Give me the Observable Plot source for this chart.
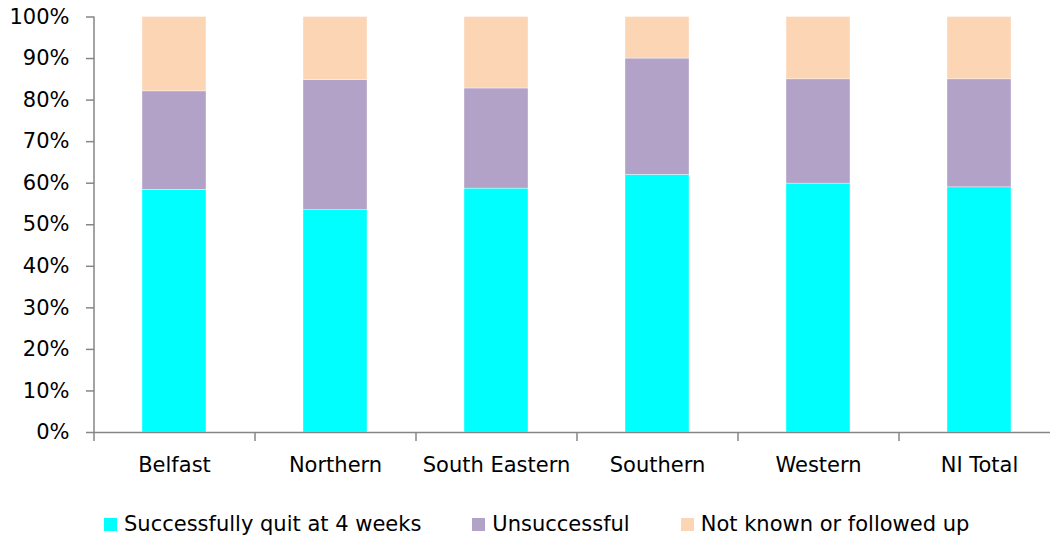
<!DOCTYPE html>
<html>
<head>
<meta charset="utf-8">
<script src="https://cdn.jsdelivr.net/npm/d3@7"></script>
<script src="https://cdn.jsdelivr.net/npm/@observablehq/plot@0.6"></script>
<style>
  html, body { margin: 0; padding: 0; background: #fff; }
  body { width: 1050px; height: 537px; overflow: hidden; font-family: "DejaVu Sans", sans-serif; }
  #legend { display: flex; align-items: center; height: 42px; padding-top: 8px; padding-left: 104px; font-size: 21px; color: #000; }
  .item { display: flex; align-items: center; margin-right: 51px; }
  .sw { width: 13px; height: 13px; margin-right: 7px; }
</style>
</head>
<body>
<div id="chart"></div>
<div id="legend"></div>
<script>
const categories = ["Belfast", "Northern", "South Eastern", "Southern", "Western", "NI Total"];
const series = ["Successfully quit at 4 weeks", "Unsuccessful", "Not known or followed up"];
const colors = ["#00FFFF", "#B3A2C7", "#FCD5B5"];
const quit = [58.4, 53.5, 58.7, 62.0, 59.9, 59.0];
const unsuccessful = [23.7, 31.3, 24.1, 28.0, 25.1, 26.0];
const notKnown = [17.9, 15.2, 17.2, 10.0, 15.0, 15.0];
const yTicks = [0, 0.1, 0.2, 0.3, 0.4, 0.5, 0.6, 0.7, 0.8, 0.9, 1.0];

const values = [quit, unsuccessful, notKnown];
const rows = [];
series.forEach((s, si) => categories.forEach((c, ci) => rows.push({category: c, series: s, value: values[si][ci] / 100})));

const W = 1050, H = 495, mL = 94, mR = -10;
const band = (W - mR - mL) / categories.length;
const gray = "#868686";
const fs = 21;

const chart = Plot.plot({
  width: W,
  height: H,
  marginLeft: mL,
  marginRight: mR,
  marginTop: 16.5,
  marginBottom: 63,
  style: {fontFamily: "DejaVu Sans, sans-serif", fontSize: fs + "px", color: "#000", background: "#fff"},
  x: {domain: categories, paddingInner: 0.6, paddingOuter: 0.3, label: null},
  y: {domain: [0, 1], label: null},
  color: {domain: series, range: colors},
  marks: [
    Plot.barY(rows, Plot.stackY({x: "category", y: "value", fill: "series", order: series, stroke: "#fff", strokeWidth: 0.6, strokeOpacity: 0.6})),
    Plot.ruleY([0], {stroke: gray, strokeWidth: 1.5}),
    Plot.ruleX(categories, {x: d => d, dx: -band / 2, y1: 0, y2: 0, insetBottom: -9, stroke: gray, strokeWidth: 1.5}),
    Plot.ruleX([categories[0]], {x: d => d, dx: -band / 2, y1: 0, y2: 1, stroke: gray, strokeWidth: 1.5}),
    Plot.axisY({ticks: yTicks, tickFormat: d => Math.round(d * 100) + "%", tickSize: 8, tickPadding: 17, stroke: gray, strokeWidth: 1.5, fill: "#000", fontSize: fs, label: null}),
    Plot.axisX({tickSize: 0, tickPadding: 25, fontSize: fs, fill: "#000", label: null})
  ]
});
document.getElementById("chart").appendChild(chart);

const legend = document.getElementById("legend");
series.forEach((s, i) => {
  const it = document.createElement("div");
  it.className = "item";
  const sw = document.createElement("div");
  sw.className = "sw";
  sw.style.background = colors[i];
  const tx = document.createElement("span");
  tx.textContent = s;
  it.appendChild(sw);
  it.appendChild(tx);
  legend.appendChild(it);
});
</script>
</body>
</html>
